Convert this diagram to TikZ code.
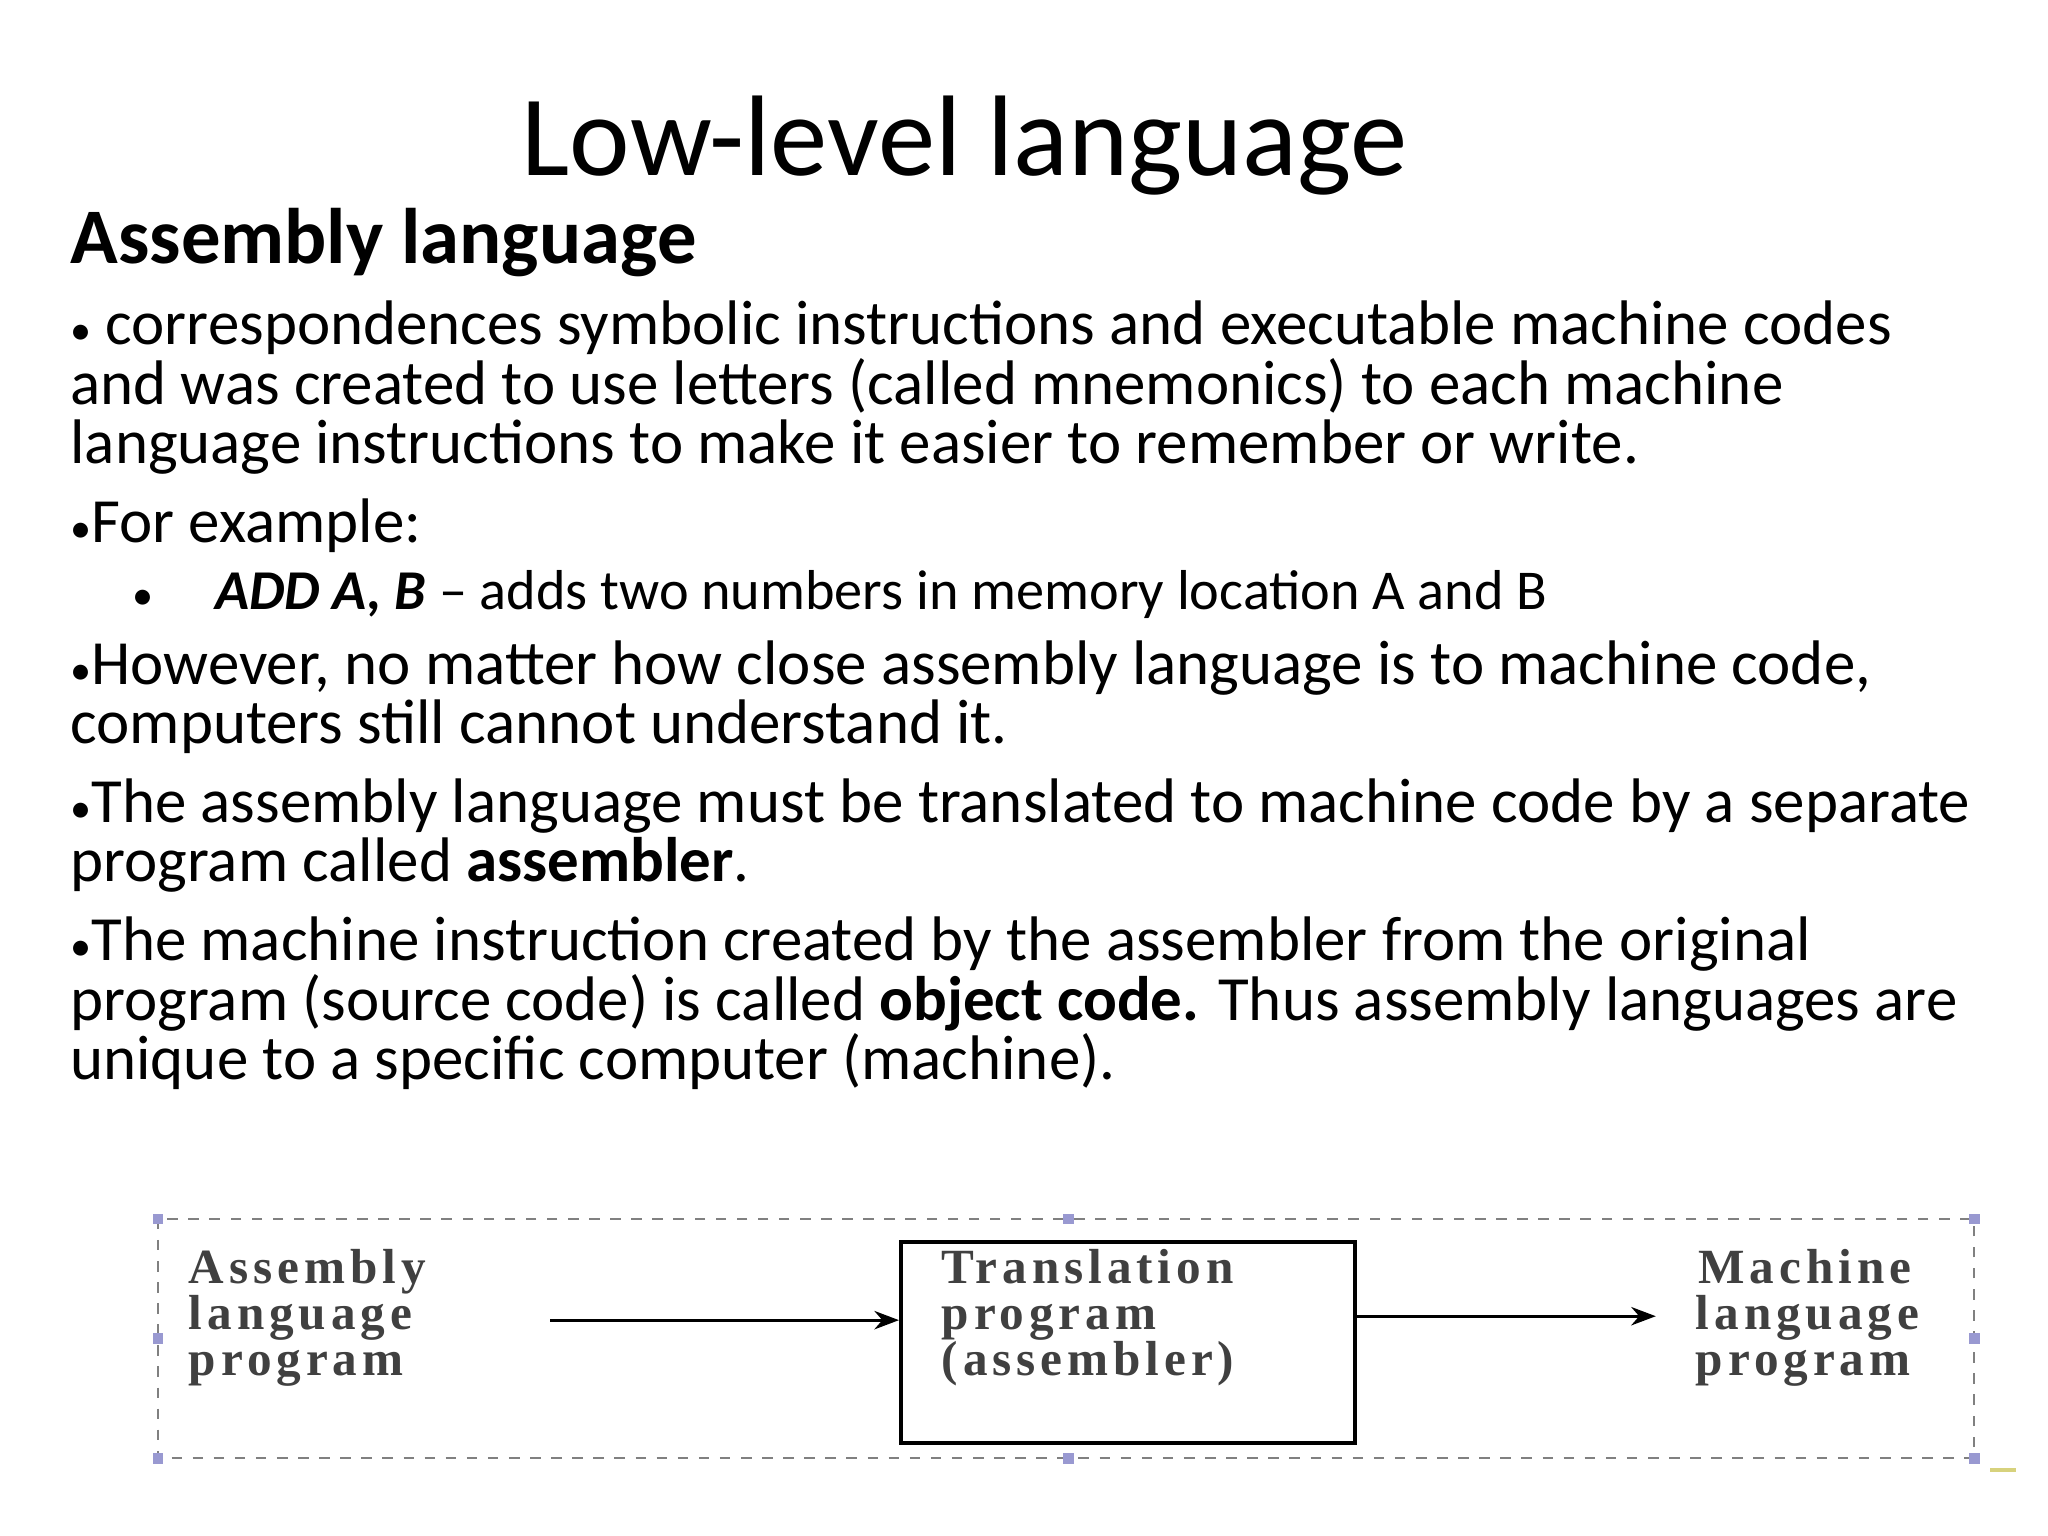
\documentclass[tikz,border=0pt]{standalone}
\usepackage{fontspec}
\setmainfont{Carlito}
\newfontfamily\dserif[LetterSpace=10]{Liberation Serif}
\usetikzlibrary{arrows.meta}
\tikzset{
  body/.style={anchor=base west,inner sep=0,font=\fontsize{17.9}{21}\selectfont},
  dtext/.style={anchor=base west,inner sep=0,text=black!75,font=\dserif\bfseries\fontsize{14}{16}\selectfont},
  handle/.style={fill=black!45!blue!40,minimum size=3pt,inner sep=0},
  arr/.style={-{Stealth[length=7pt]},line width=0.8pt}
}
\begin{document}
\begin{tikzpicture}[x=0.3744pt,y=-0.3744pt]
\useasboundingbox (0,0) rectangle (1556,1167);
\node[anchor=base,inner sep=0,font=\fontsize{32.6}{38}\selectfont] (title) at (733,133) {Low-level language};
\node[body,font=\bfseries\fontsize{22.4}{26}\selectfont] (h) at (53,200) {Assembly language};
\node[body] (l1) at (53,262) {{\large•} correspondences symbolic instructions and executable machine codes};
\node[body] (l2) at (53,307) {and was created to use letters (called mnemonics) to each machine};
\node[body] (l3) at (53,352) {language instructions to make it easier to remember or write.};
\node[body] (l4) at (53,412) {{\large•}For example:};
\node[body,font=\fontsize{16}{19}\selectfont] (l5) at (100,463) {{\large•}\hspace{1.1em}\textbf{\textit{ADD A, B}} – adds two numbers in memory location A and B};
\node[body] (l6) at (53,520) {{\large•}However, no matter how close assembly language is to machine code,};
\node[body] (l7) at (53,565) {computers still cannot understand it.};
\node[body] (l8) at (53,625) {{\large•}The assembly language must be translated to machine code by a separate};
\node[body] (l9) at (53,670) {program called \textbf{assembler}.};
\node[body] (l10) at (53,730) {{\large•}The machine instruction created by the assembler from the original};
\node[body] (l11) at (53,775) {program (source code) is called \textbf{object code.} Thus assembly languages are};
\node[body] (l12) at (53,820) {unique to a specific computer (machine).};
% diagram
\draw[black!50,dashed,line width=0.6pt] (120,926) rectangle (1500,1108);
\foreach \p in {(120,926),(812,926),(1500,926),(120,1017),(1500,1017),(120,1108),(812,1108),(1500,1108)}
  \node[handle] at \p {};
\node[draw,line width=1.2pt,minimum width=345*0.3744pt,minimum height=153*0.3744pt,anchor=north west,inner sep=0] (tp) at (683,942) {};
\node[dtext] (a1) at (143,975) {Assembly};
\node[dtext] (a2) at (143,1010) {language};
\node[dtext] (a3) at (143,1045) {program};
\coordinate (as) at (418,1003);
\node[dtext] (t1) at (715,975) {Translation};
\node[dtext] (t2) at (715,1010) {program};
\node[dtext] (t3) at (715,1045) {(assembler)};
\node[dtext] (m1) at (1290,975) {Machine};
\node[dtext] (m2) at (1288,1010) {language};
\node[dtext] (m3) at (1288,1045) {program};
\coordinate (me) at (1258,1000);
\draw[arr] (as) -- (tp.west |- as);
\draw[arr] (tp.east |- me) -- (me);
\draw[yellow!70!black!60,line width=1pt] (1512,1117) -- (1532,1117);
\end{tikzpicture}
\end{document}
